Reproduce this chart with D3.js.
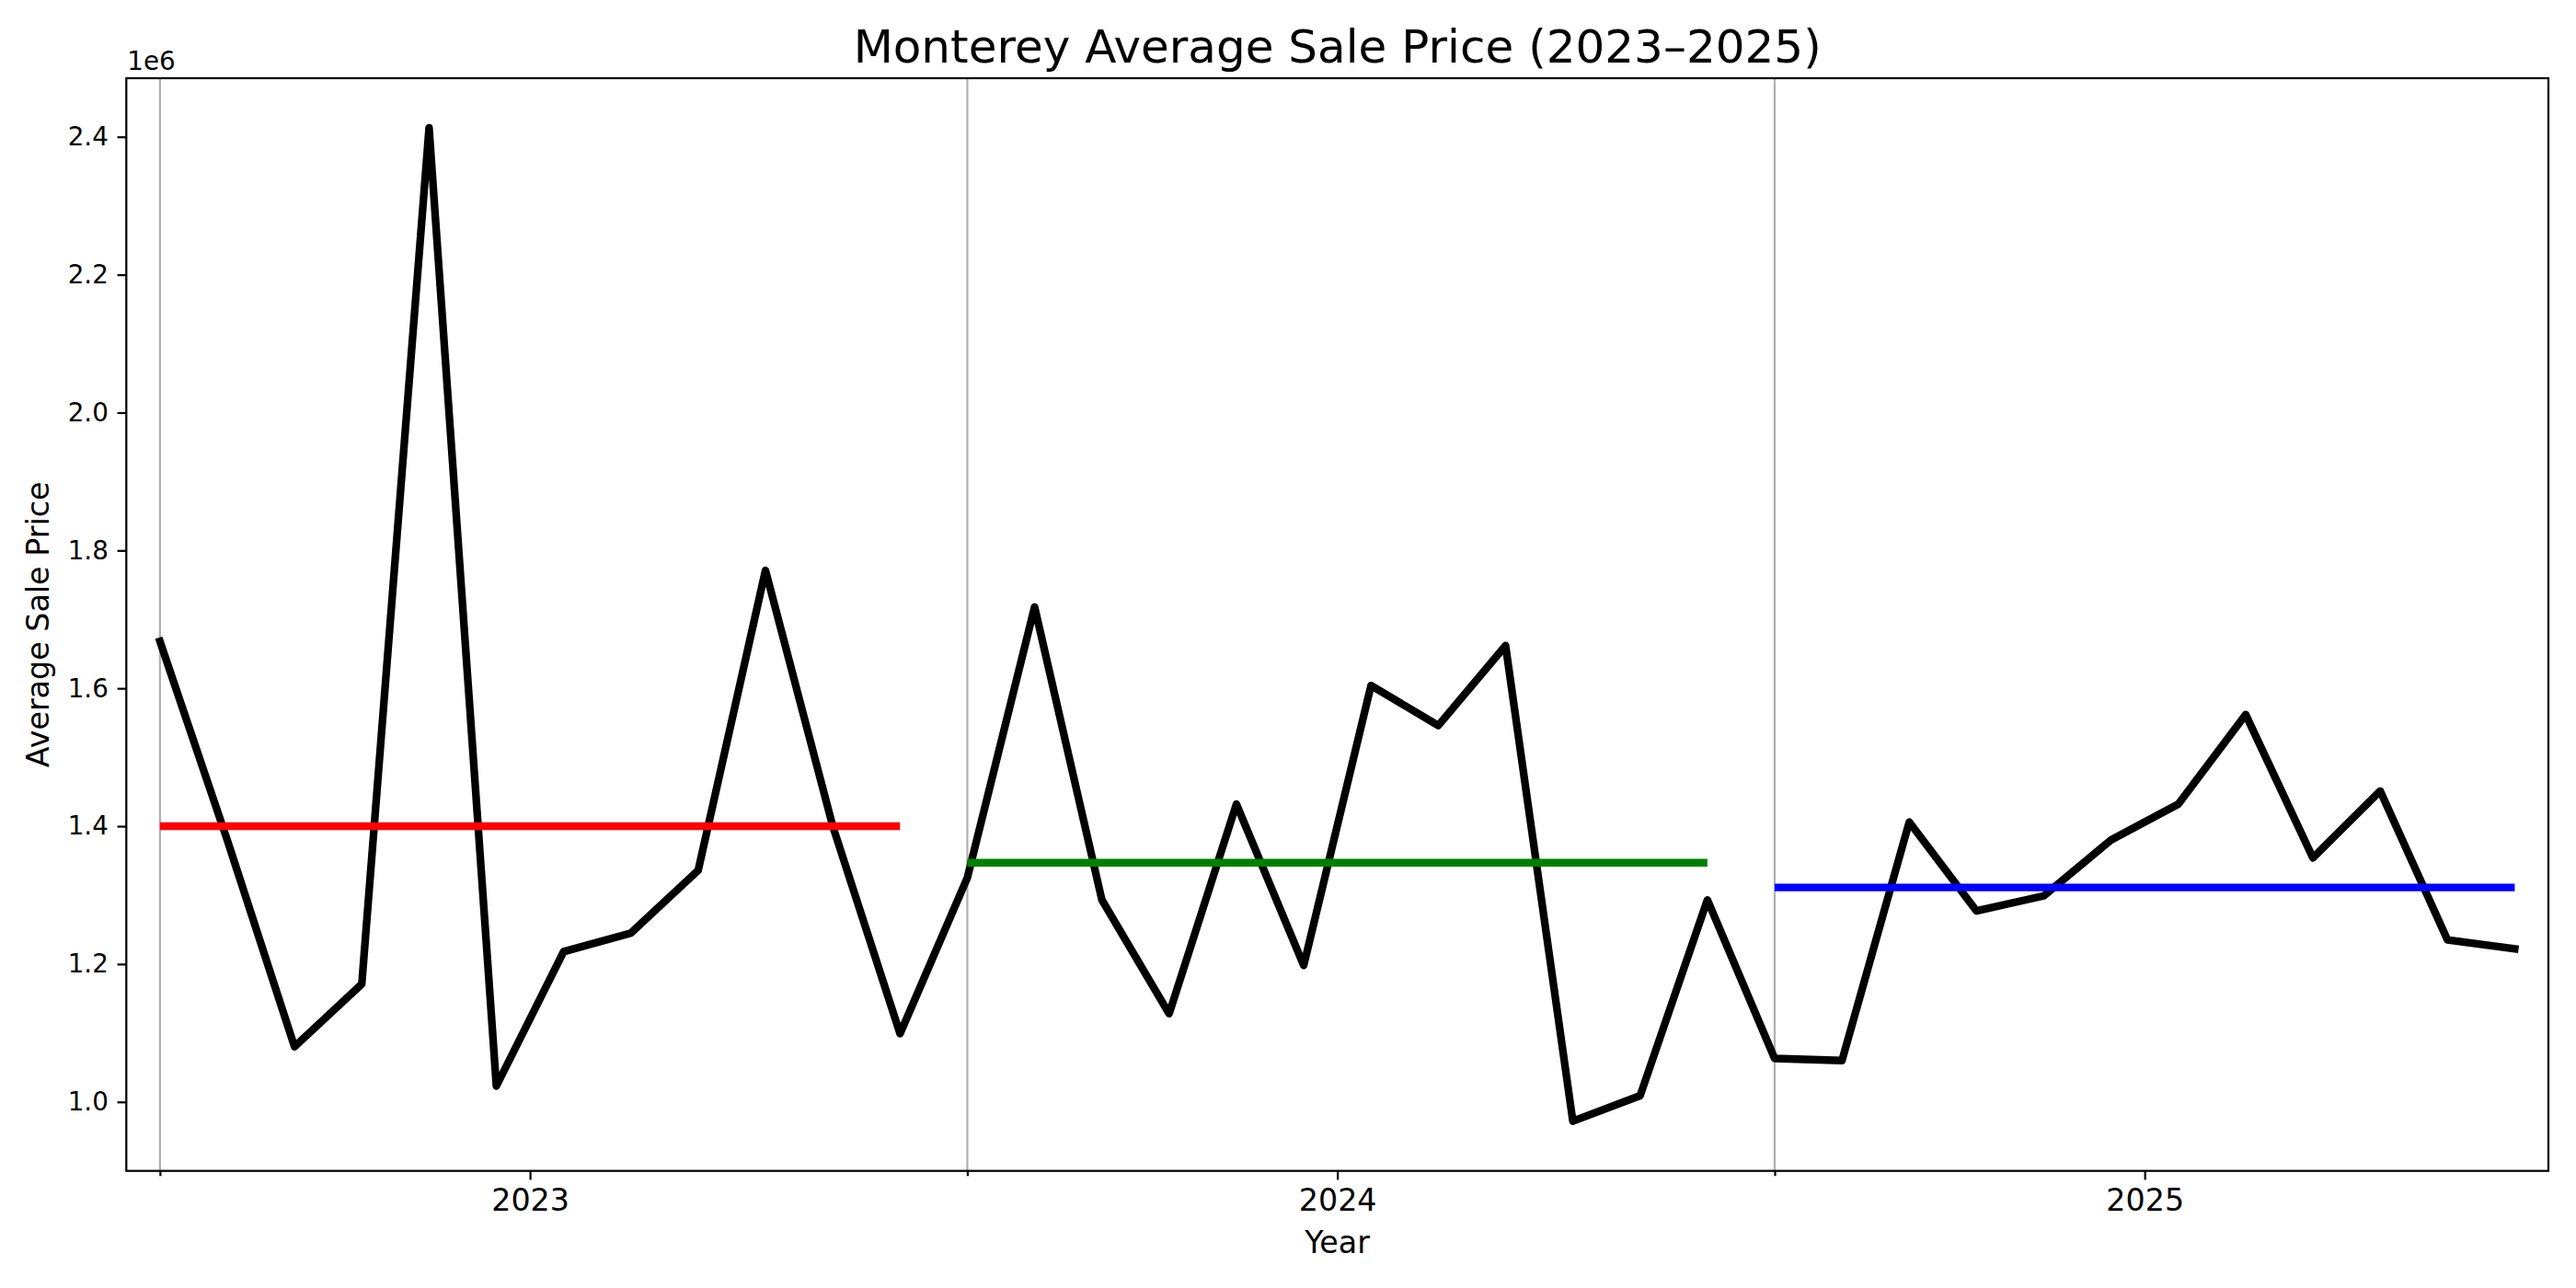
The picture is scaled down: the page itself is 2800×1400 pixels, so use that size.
<!DOCTYPE html>
<html>
<head>
<meta charset="utf-8">
<title>Monterey Average Sale Price</title>
<script src="https://cdn.jsdelivr.net/npm/d3@7"></script>
<style>
  body { margin: 0; background: #fff; }
  .container { width: 2800px; height: 1400px; }
  text { font-family: "DejaVu Sans", sans-serif; fill: #000; }
</style>
</head>
<body>
<div class="container"></div>
<script>
// monthly categories, 2023-01 .. 2025-12
const months = [
  "2023-01", "2023-02", "2023-03", "2023-04", "2023-05", "2023-06",
  "2023-07", "2023-08", "2023-09", "2023-10", "2023-11", "2023-12",
  "2024-01", "2024-02", "2024-03", "2024-04", "2024-05", "2024-06",
  "2024-07", "2024-08", "2024-09", "2024-10", "2024-11", "2024-12",
  "2025-01", "2025-02", "2025-03", "2025-04", "2025-05", "2025-06",
  "2025-07", "2025-08", "2025-09", "2025-10", "2025-11", "2025-12",
];

// average sale price per month
const prices = [
  1668000, 1380000, 1080000, 1171000, 2413000, 1023000,
  1218000, 1245000, 1336000, 1771000, 1400000, 1099000,
  1325000, 1718000, 1293000, 1128000, 1432000, 1198000,
  1604000, 1546000, 1662000, 972000, 1009000, 1293000,
  1063000, 1060000, 1406000, 1277000, 1299000, 1380000,
  1432000, 1562000, 1354000, 1451000, 1235000, 1222000,
];

// yearly average lines
const years = ["2023", "2024", "2025"];
const yearMeans = [1400000, 1347000, 1311000];
const yearColors = ["#ff0000", "#008000", "#0000ff"];

// y tick labels (in millions, shown with the 1e6 offset)
const yTicks = [1.0, 1.2, 1.4, 1.6, 1.8, 2.0, 2.2, 2.4];

function main() {
  const container = document.querySelector(".container");

  const fullWidth = 2800;
  const fullHeight = 1400;
  const margin = { left: 137.3, right: 30, top: 85, bottom: 127.3 };
  const width = fullWidth - margin.left - margin.right;
  const height = fullHeight - margin.top - margin.bottom;
  const pt = 200 / 72; // figure was rendered at 200 dpi

  const svg = d3
    .create("svg")
    .attr("width", fullWidth)
    .attr("height", fullHeight)
    .attr("viewBox", [0, 0, fullWidth, fullHeight])
    .style("display", "block")
    .style("background", "#fff");

  const g = svg
    .append("g")
    .attr("transform", `translate(${margin.left},${margin.top})`);

  const x = d3
    .scaleLinear()
    .domain([-0.5, months.length - 0.5])
    .range([0, width]);

  // 5% padding like matplotlib autoscale
  const [lo, hi] = d3.extent(prices);
  const pad = (hi - lo) * 0.05;
  const y = d3
    .scaleLinear()
    .domain([lo - pad, hi + pad])
    .range([height, 0]);

  // index range of each year in the months list
  const yearSpans = years.map((yr) => {
    const idx = months
      .map((m, i) => (m.startsWith(yr) ? i : -1))
      .filter((i) => i >= 0);
    return { first: idx[0], last: idx[idx.length - 1] };
  });
  const yearStarts = yearSpans.map((s) => s.first);
  const yearMids = yearSpans.map((s) => (s.first + s.last) / 2);

  // vertical grid at the start of each year
  g.append("g")
    .selectAll("line")
    .data(yearStarts)
    .join("line")
    .attr("x1", (d) => x(d))
    .attr("x2", (d) => x(d))
    .attr("y1", 0)
    .attr("y2", height)
    .attr("stroke", "#b0b0b0")
    .attr("stroke-width", 0.8 * pt);

  // price line
  const line = d3
    .line()
    .x((d, i) => x(i))
    .y((d) => y(d));

  g.append("path")
    .datum(prices)
    .attr("d", line)
    .attr("fill", "none")
    .attr("stroke", "#000")
    .attr("stroke-width", 3 * pt)
    .attr("stroke-linejoin", "round")
    .attr("stroke-linecap", "square");

  // yearly mean lines on top
  g.append("g")
    .selectAll("line")
    .data(years)
    .join("line")
    .attr("x1", (d, i) => x(yearSpans[i].first))
    .attr("x2", (d, i) => x(yearSpans[i].last))
    .attr("y1", (d, i) => y(yearMeans[i]))
    .attr("y2", (d, i) => y(yearMeans[i]))
    .attr("stroke", (d, i) => yearColors[i])
    .attr("stroke-width", 3 * pt);

  // y axis
  const yAxis = g
    .append("g")
    .call(
      d3
        .axisLeft(y)
        .tickValues(yTicks.map((v) => v * 1e6))
        .tickFormat((d) => (d / 1e6).toFixed(1))
        .tickSize(3.5 * pt)
        .tickPadding(3.5 * pt)
    );
  yAxis.select(".domain").remove();
  yAxis.selectAll("line").attr("stroke", "#000").attr("stroke-width", 0.8 * pt);
  yAxis
    .selectAll("text")
    .attr("fill", "#000")
    .style("font-size", `${10 * pt}px`);

  // x axis: year labels at the middle of each year
  const xAxis = g
    .append("g")
    .attr("transform", `translate(0,${height})`)
    .call(
      d3
        .axisBottom(x)
        .tickValues(yearMids)
        .tickFormat((d, i) => years[i])
        .tickSize(3.5 * pt)
        .tickPadding(3.5 * pt)
    );
  xAxis.select(".domain").remove();
  xAxis.selectAll("line").attr("stroke", "#000").attr("stroke-width", 0.8 * pt);
  xAxis
    .selectAll("text")
    .attr("fill", "#000")
    .style("font-size", `${12 * pt}px`);

  // short unlabeled ticks at year starts
  const xMinor = g
    .append("g")
    .attr("transform", `translate(0,${height})`)
    .call(d3.axisBottom(x).tickValues(yearStarts).tickFormat("").tickSize(2 * pt));
  xMinor.select(".domain").remove();
  xMinor.selectAll("line").attr("stroke", "#000").attr("stroke-width", 0.8 * pt);

  // spines
  g.append("rect")
    .attr("width", width)
    .attr("height", height)
    .attr("fill", "none")
    .attr("stroke", "#000")
    .attr("stroke-width", 0.8 * pt);

  // offset text
  svg
    .append("text")
    .attr("x", margin.left + 1)
    .attr("y", 76)
    .style("font-size", `${10 * pt}px`)
    .text("1e6");

  // title
  svg
    .append("text")
    .attr("x", margin.left + width / 2)
    .attr("y", 68)
    .attr("text-anchor", "middle")
    .style("font-size", `${18 * pt}px`)
    .text("Monterey Average Sale Price (2023–2025)");

  // axis labels
  svg
    .append("text")
    .attr("x", margin.left + width / 2)
    .attr("y", 1361.5)
    .attr("text-anchor", "middle")
    .style("font-size", `${12 * pt}px`)
    .text("Year");

  svg
    .append("text")
    .attr("transform", `translate(52.5,${margin.top + height / 2}) rotate(-90)`)
    .attr("text-anchor", "middle")
    .style("font-size", `${12 * pt}px`)
    .text("Average Sale Price");

  container.append(svg.node());
}

main();
</script>
</body>
</html>
